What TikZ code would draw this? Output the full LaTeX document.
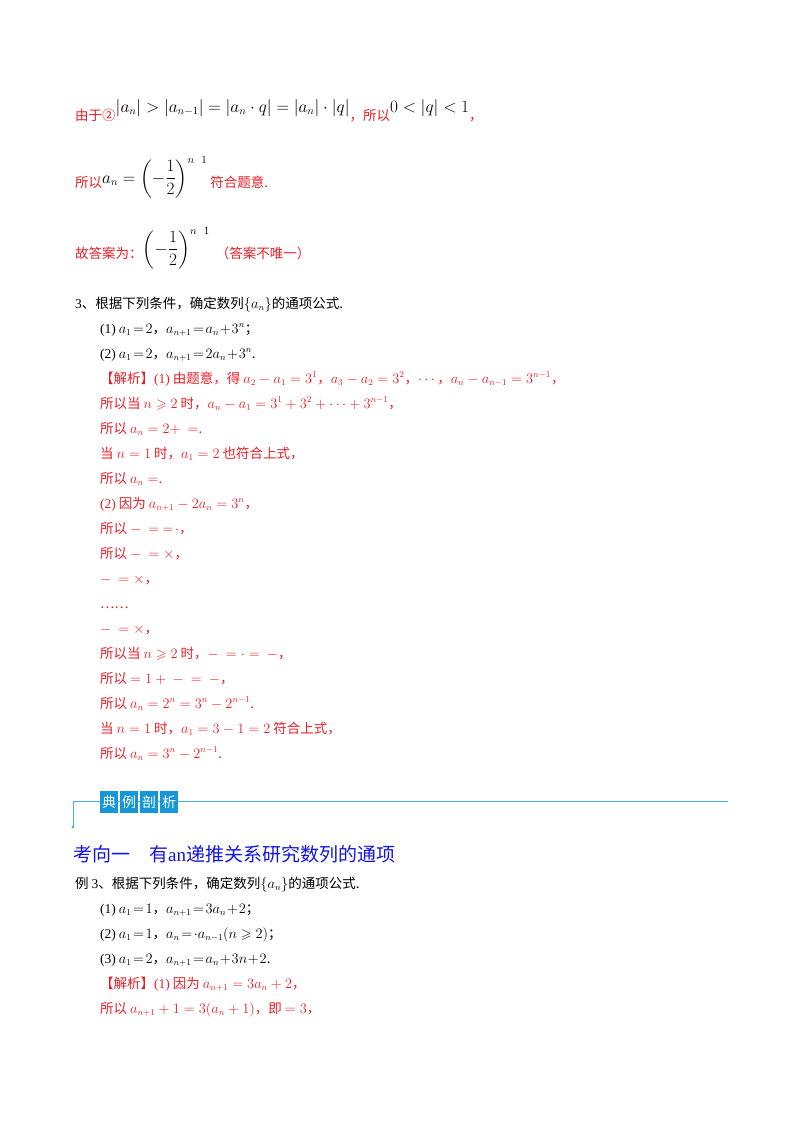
\documentclass[tikz,border=0pt]{standalone}
\usepackage{amsmath,amssymb}
\usepackage{fontspec}
\setmainfont{Noto Sans CJK SC}
\newfontfamily\tm{Liberation Serif}
\definecolor{rd}{RGB}{235,30,40}
\definecolor{bl}{RGB}{20,20,225}
\definecolor{cy}{RGB}{70,180,220}
\definecolor{bx}{RGB}{20,150,215}
\tikzset{t/.style={anchor=base west,inner sep=0pt,font=\fontsize{13.5}{15}\selectfont},
r/.style={t,text=rd},
bk/.style={fill=bx,minimum width=18pt,minimum height=22pt,inner sep=0pt,text=white,font=\fontsize{14}{15}\selectfont}}
\newcommand{\R}[1]{{\tm #1}}
\newcommand{\BG}{\fontsize{16}{18}\selectfont}
\begin{document}
\begin{tikzpicture}[x=1pt,y=-1pt]
\useasboundingbox[fill=white] (0,0) rectangle (800,1132);
\node[r] (l1) at (75,120) {由于②\raisebox{8pt}{\color{black}\BG$|a_n|>|a_{n-1}|=|a_n\cdot q|=|a_n|\cdot|q|$}，所以\raisebox{8pt}{\color{black}\BG$0<|q|<1$}，};
\node[r] (l2) at (75,187) {所以\raisebox{4pt}{\color{black}\BG$a_n=\left(-\dfrac12\right)^{n\ \ 1}$}\ 符合题意.};
\node[r] (l3) at (75,258) {故答案为：\raisebox{4pt}{\color{black}\BG$\left(-\dfrac12\right)^{n\ \ 1}$}\ \ （答案不唯一）};
\node[t] (q0) at (75,308) {\R{3}、根据下列条件，确定数列$\{a_n\}$的通项公式.};
\node[t] (q1) at (100,333) {\R{(1)}\ $a_1\!=\!2$，$a_{n+1}\!=\!a_n\!+\!3^n$；};
\node[t] (q2) at (100,358) {\R{(2)}\ $a_1\!=\!2$，$a_{n+1}\!=\!2a_n\!+\!3^n$.};
\node[r] (s1) at (100,383) {【解析】\R{(1)} 由题意，得 $a_2-a_1=3^1$，$a_3-a_2=3^2$，$\cdots$，$a_n-a_{n-1}=3^{n-1}$，};
\node[r] (s2) at (100,408) {所以当 $n\geqslant2$ 时，$a_n-a_1=3^1+3^2+\cdots+3^{n-1}$，};
\node[r] (s3) at (100,433) {所以 $a_n=2+\ =$.};
\node[r] (s4) at (100,458) {当 $n=1$ 时，$a_1=2$ 也符合上式，};
\node[r] (s5) at (100,483) {所以 $a_n=$.};
\node[r] (s6) at (100,508) {\R{(2)} 因为 $a_{n+1}-2a_n=3^n$，};
\node[r] (s7) at (100,533) {所以 $-\ =\ =\!\cdot$，};
\node[r] (s8) at (100,558) {所以 $-\ =\times$，};
\node[r] (s9) at (100,583) {$-\ =\times$，};
\node[r] (s10) at (100,608) {……};
\node[r] (s11) at (100,633) {$-\ =\times$，};
\node[r] (s12) at (100,658) {所以当 $n\geqslant2$ 时，$-\ =\cdot=\ -$，};
\node[r] (s13) at (100,683) {所以 $=1+\ -\ =\ -$，};
\node[r] (s14) at (100,708) {所以 $a_n=2^n=3^n-2^{n-1}$.};
\node[r] (s15) at (100,733) {当 $n=1$ 时，$a_1=3-1=2$ 符合上式，};
\node[r] (s16) at (100,758) {所以 $a_n=3^n-2^{n-1}$.};
% banner
\coordinate (b0) at (73,827);
\coordinate (b1) at (73,801);
\coordinate (b2) at (728,801);
\draw[cy,line width=1pt] (b0) -- (b1) -- (b2);
\fill[cy] (b0) circle (1.6pt);
\node[bk] (k1) at (109,802) {典};
\node[bk] (k2) at (129,802) {例};
\node[bk] (k3) at (149,802) {剖};
\node[bk] (k4) at (169,802) {析};
\node[anchor=base west,inner sep=0pt,text=bl,font=\fontsize{19}{21}\selectfont] (h) at (73,861) {考向一\quad 有\R{an}递推关系研究数列的通项};
\node[t] (e0) at (75,888) {例 \R{3}、根据下列条件，确定数列$\{a_n\}$的通项公式.};
\node[t] (e1) at (100,913) {\R{(1)}\ $a_1\!=\!1$，$a_{n+1}\!=\!3a_n\!+\!2$；};
\node[t] (e2) at (100,938) {\R{(2)}\ $a_1\!=\!1$，$a_n\!=\!\cdot a_{n-1}(n\geqslant2)$；};
\node[t] (e3) at (100,963) {\R{(3)}\ $a_1\!=\!2$，$a_{n+1}\!=\!a_n\!+\!3n\!+\!2$.};
\node[r] (f1) at (100,988) {【解析】\R{(1)} 因为 $a_{n+1}=3a_n+2$，};
\node[r] (f2) at (100,1013) {所以 $a_{n+1}+1=3(a_n+1)$，即 $=3$，};
\end{tikzpicture}
\end{document}
